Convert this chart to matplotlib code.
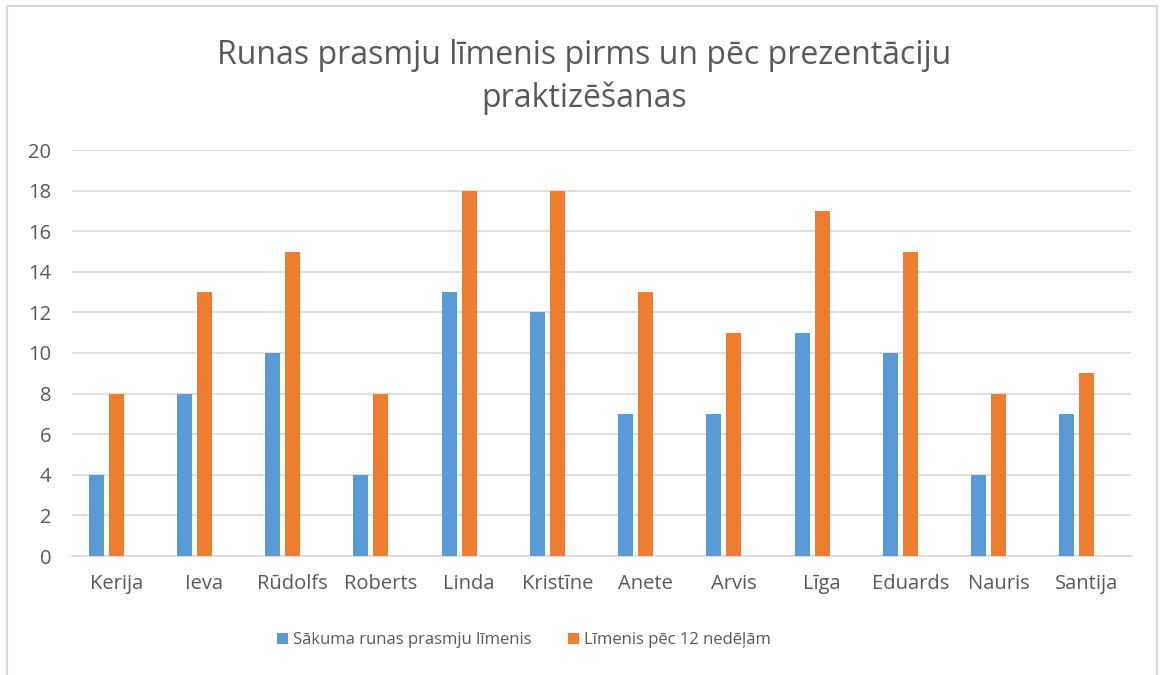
import numpy as np
import matplotlib
matplotlib.use("Agg")
import matplotlib.pyplot as plt
from matplotlib.lines import Line2D

# Chart data
names = ["Kerija", "Ieva", "Rūdolfs", "Roberts", "Linda", "Kristīne",
         "Anete", "Arvis", "Līga", "Eduards", "Nauris", "Santija"]
start_level = [4, 8, 10, 4, 13, 12, 7, 7, 11, 10, 4, 7]
after_12_weeks = [8, 13, 15, 8, 18, 18, 13, 11, 17, 15, 8, 9]
series_labels = ["Sākuma runas prasmju līmenis", "Līmenis pēc 12 nedēļām"]
y_ticks = [0, 2, 4, 6, 8, 10, 12, 14, 16, 18, 20]

plt.rcParams["font.family"] = ["Open Sans", "DejaVu Sans"]
text_color = "#595959"
grid_color = "#D9D9D9"

W, H = 1160, 675
fig = plt.figure(figsize=(W / 100, H / 100), dpi=100)
ax = fig.add_axes([72 / W, 1 - 556 / H, (1131 - 72) / W, (556 - 150) / H])

x = np.arange(len(names))
slot = 0.227
width = 0.17
ax.bar(x - slot, start_level, width, color="#5B9BD5", label=series_labels[0], zorder=3)
ax.bar(x, after_12_weeks, width, color="#ED7D31", label=series_labels[1], zorder=3)

ax.set_xlim(-0.5, len(names) - 0.5)
ax.set_ylim(0, 20)
ax.set_yticks(y_ticks)
ax.set_xticks(x)
ax.set_xticklabels(names)
ax.tick_params(axis="both", length=0, labelsize=14.5, colors=text_color)
ax.tick_params(axis="y", pad=15)
ax.tick_params(axis="x", pad=13)
ax.grid(axis="y", color=grid_color, linewidth=1.2, zorder=0)
for s in ["top", "right", "left"]:
    ax.spines[s].set_visible(False)
ax.spines["bottom"].set_color(grid_color)
ax.spines["bottom"].set_linewidth(1.2)

# Title
fig.text(584 / W, 1 - 77 / H, "Runas prasmju līmenis pirms un pēc prezentāciju\npraktizēšanas",
         ha="center", va="center", fontsize=23, color=text_color, linespacing=1.35)

# Legend
fig.legend(loc="center left", bbox_to_anchor=(262 / W, 1 - 640 / H), ncol=2,
           frameon=False, fontsize=12, labelcolor=text_color,
           handlelength=0.65, handleheight=0.65, handletextpad=0.3, columnspacing=2.2)

# Chart border
for xs, ys in [([7, 7], [6, H]), ([7, 1157], [6, 6]), ([1157, 1157], [6, H])]:
    fig.add_artist(Line2D([v / W for v in xs], [1 - v / H for v in ys],
                          color=grid_color, linewidth=1.5))

plt.savefig("out.png", dpi=100)
